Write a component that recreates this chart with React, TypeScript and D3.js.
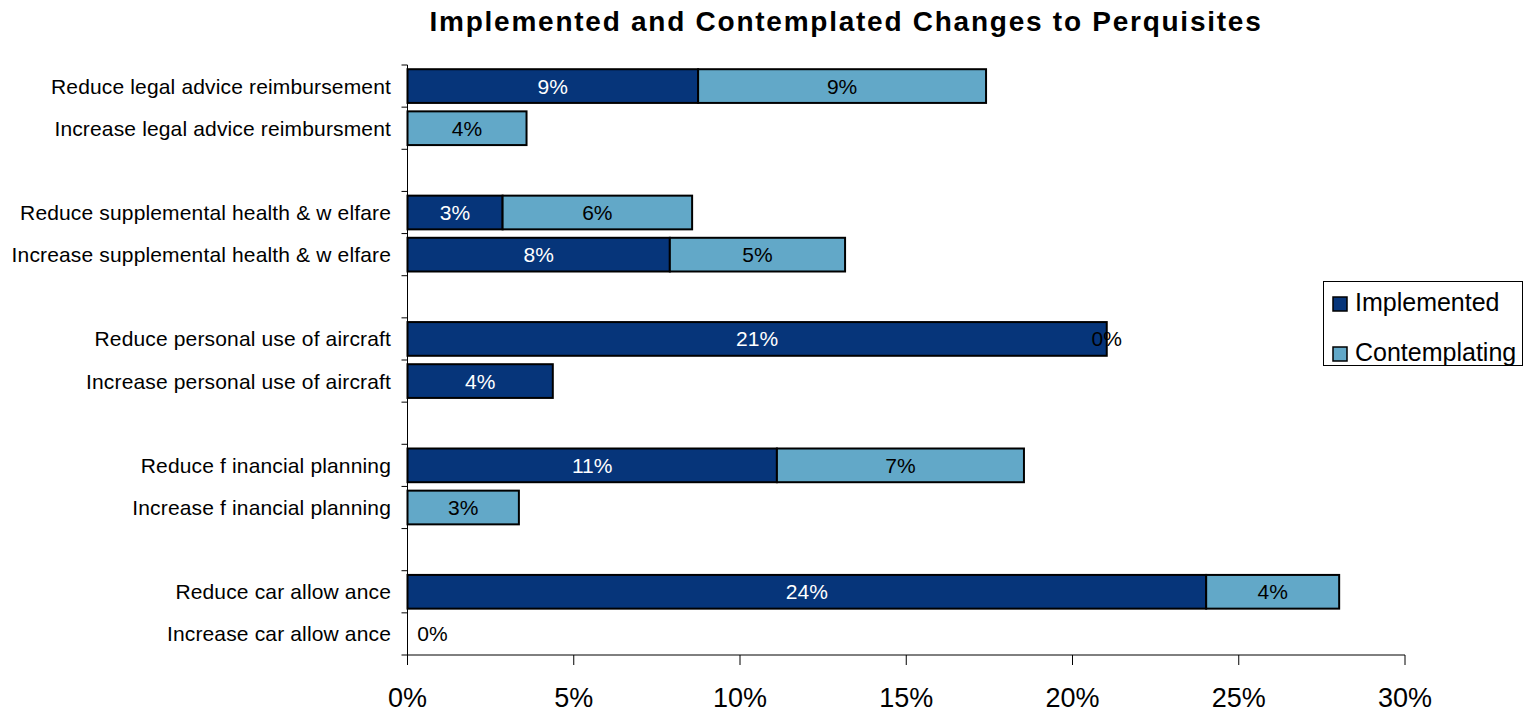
import React from "react";
import * as d3 from "d3";

const categories = [
  "Reduce legal advice reimbursement",
  "Increase legal advice reimbursment",
  "",
  "Reduce supplemental health & w elfare",
  "Increase supplemental health & w elfare",
  "",
  "Reduce personal use of aircraft",
  "Increase personal use of aircraft",
  "",
  "Reduce f inancial planning",
  "Increase f inancial planning",
  "",
  "Reduce car allow ance",
  "Increase car allow ance",
];

const implemented: (number | null)[] = [0.0874, null, null, 0.0286, 0.0789, null, 0.2103, 0.0437, null, 0.1111, null, null, 0.2402, null];
const contemplating: (number | null)[] = [0.0866, 0.0358, null, 0.0570, 0.0527, null, 0, null, null, 0.0743, 0.0335, null, 0.0400, 0];

const xTicks = [0, 0.05, 0.1, 0.15, 0.2, 0.25, 0.3];
const seriesNames = ["Implemented", "Contemplating"];
const seriesColors = ["#06357A", "#62A8C8"];
const labelColors = ["#ffffff", "#000000"];
const title = "Implemented and Contemplated Changes to Perquisites";

const W = 1523;
const H = 714;
const left = 407.5;
const right = 1405;
const top = 65;
const bottom = 655;
const font = "Arial, 'Liberation Sans', Helvetica, sans-serif";

export default function App() {
  const x = d3.scaleLinear().domain([0, 0.3]).range([left, right]);
  const idx = categories.map((_, i) => i);
  const y = d3.scaleBand<number>().domain(idx).range([top, bottom]).padding(0);
  const bw = y.bandwidth();
  const barInset = bw * 0.1;
  const barH = bw * 0.8;
  const fmt = d3.format(".0%");

  const rows = idx.map((i) => {
    const segs: { s: number; x0: number; x1: number; v: number }[] = [];
    let acc = 0;
    [implemented[i], contemplating[i]].forEach((v, s) => {
      if (v === null || v === undefined) return;
      segs.push({ s, x0: acc, x1: acc + v, v });
      acc += v;
    });
    return { i, segs };
  });

  const boundaries = d3.range(categories.length + 1).map((k) => top + k * bw);

  return (
    <svg width={W} height={H} style={{ position: "absolute", left: 0, top: 0, background: "#fff" }} fontFamily={font}>
      <text x={846} y={31} textAnchor="middle" fontWeight="bold" fontSize={28} letterSpacing={1.75} fill="#000">
        {title}
      </text>

      {rows.map((r) =>
        r.segs.map((sg) => (
          <rect
            key={`b${r.i}-${sg.s}`}
            x={x(sg.x0)}
            y={(y(r.i) as number) + barInset}
            width={Math.max(0, x(sg.x1) - x(sg.x0))}
            height={barH}
            fill={seriesColors[sg.s]}
            stroke="#000"
            strokeWidth={sg.v > 0 ? 2 : 0}
          />
        ))
      )}

      {rows.map((r) =>
        r.segs.map((sg) => {
          const mid = (x(sg.x0) + x(sg.x1)) / 2;
          const lx = Math.max(mid, x(0) + 25);
          return (
            <text
              key={`l${r.i}-${sg.s}`}
              x={lx}
              y={(y(r.i) as number) + bw / 2}
              dy="0.36em"
              textAnchor="middle"
              fontSize={21}
              fill={sg.v > 0 ? labelColors[sg.s] : "#000"}
            >
              {fmt(sg.v)}
            </text>
          );
        })
      )}

      {/* y axis */}
      <line x1={left} x2={left} y1={top} y2={bottom} stroke="#000" strokeWidth={1} />
      {boundaries.map((b, k) => (
        <line key={`yt${k}`} x1={left - 6} x2={left} y1={b} y2={b} stroke="#000" strokeWidth={1} />
      ))}
      {categories.map((c, i) =>
        c ? (
          <text key={`c${i}`} x={391} y={(y(i) as number) + bw / 2} dy="0.36em" textAnchor="end" fontSize={21} letterSpacing={0.15} fill="#000">
            {c}
          </text>
        ) : null
      )}

      {/* x axis */}
      <line x1={left} x2={right} y1={bottom} y2={bottom} stroke="#000" strokeWidth={1} />
      {xTicks.map((t) => (
        <g key={`xt${t}`}>
          <line x1={x(t)} x2={x(t)} y1={bottom} y2={bottom + 10} stroke="#000" strokeWidth={1} />
          <text x={x(t)} y={707} textAnchor="middle" fontSize={27} fill="#000">
            {fmt(t)}
          </text>
        </g>
      ))}

      {/* legend */}
      <rect x={1323.5} y={281.5} width={199} height={84} fill="#fff" stroke="#000" strokeWidth={1} />
      {seriesNames.map((n, k) => (
        <g key={`lg${k}`}>
          <rect x={1333} y={297 + k * 50} width={14} height={14} fill={seriesColors[k]} stroke="#000" strokeWidth={1.5} />
          <text x={1355} y={311 + k * 50} fontSize={25} fill="#000">
            {n}
          </text>
        </g>
      ))}
    </svg>
  );
}
